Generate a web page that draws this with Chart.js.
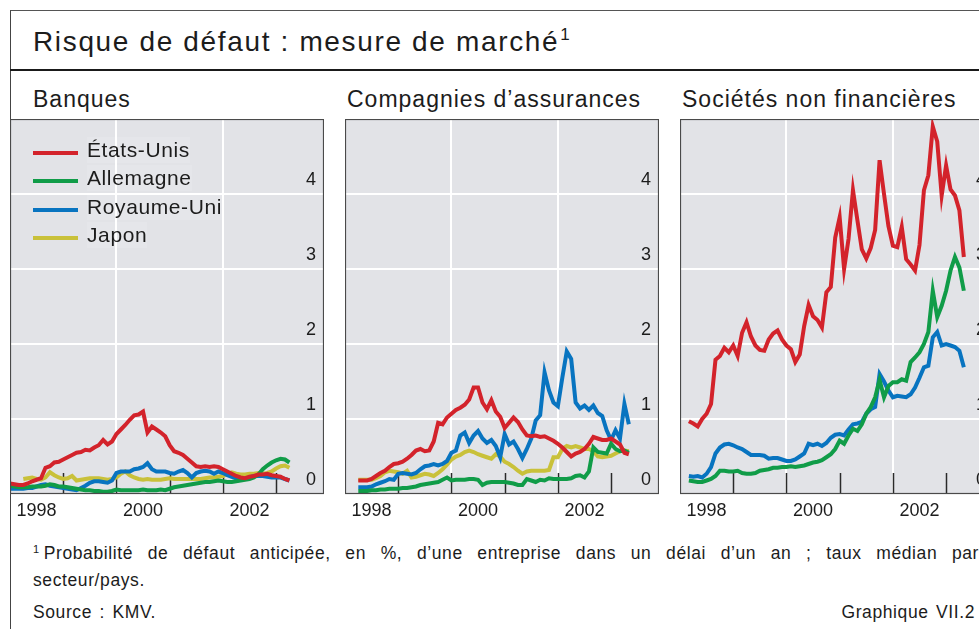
<!DOCTYPE html>
<html lang="fr">
<head>
<meta charset="utf-8">
<title>Risque de défaut : mesure de marché</title>
<script src="https://cdn.jsdelivr.net/npm/chart.js@4.4.0/dist/chart.umd.min.js"></script>
<style>
    html, body { margin: 0; padding: 0; }
    body {
        width: 979px; height: 629px; position: relative; overflow: hidden;
        background: #fff; color: #1c1c1c;
        font-family: "Liberation Sans", Arial, sans-serif;
    }
    .frame { position: absolute; left: 10px; top: 10px; width: 1200px; height: 800px;
             border-left: 1.5px solid #444; border-top: 1.5px solid #555; }
    .sep { position: absolute; left: 10px; top: 69px; width: 1200px; height: 2px; background: #1a1a1a; }
    .title { position: absolute; left: 33px; top: 28px; font-size: 28px; line-height: 1;
             letter-spacing: 1.65px; white-space: nowrap; }
    .title sup { font-size: 17px; letter-spacing: 0; vertical-align: 0; position: relative; top: -11px; margin-left: 1px; }
    .heading { position: absolute; top: 88px; font-size: 23px; line-height: 1;
               letter-spacing: 1px; white-space: nowrap; }
    canvas { position: absolute; top: 119px; }
    .legend-row { position: absolute; left: 33px; height: 26px; width: 260px; }
    .legend-row .swatch { position: absolute; left: 0; top: 14px; width: 45px; height: 4px; }
    .legend-row .name { position: absolute; left: 54px; top: 0; font-size: 21px; line-height: 26px;
                        letter-spacing: 0.6px; white-space: nowrap; background: rgba(255,255,255,0.12); }
    .note { position: absolute; left: 33px; font-size: 17.5px; line-height: 1; letter-spacing: 0.6px;
            word-spacing: 2px; white-space: nowrap; }
    .note.first { width: 946px; text-align: justify; text-align-last: justify; }
    .note sup { font-size: 11px; vertical-align: 0; position: relative; top: -6px; margin-right: 4px; }
</style>
</head>
<body>
<div class="frame"></div>
<div class="title">Risque de défaut : mesure de marché<sup>1</sup></div>
<div class="sep"></div>

<div class="heading" style="left:33px">Banques</div>
<div class="heading" style="left:347px">Compagnies d’assurances</div>
<div class="heading" style="left:682px">Sociétés non financières</div>

<canvas id="banques" width="314" height="407" style="left:10px"></canvas>
<canvas id="assurances" width="314" height="407" style="left:345px"></canvas>
<canvas id="societes" width="314" height="407" style="left:680px"></canvas>

<div id="legend"></div>

<div class="note first" style="top:545px"><sup>1</sup>Probabilité de défaut anticipée, en %, d’une entreprise dans un délai d’un an ; taux médian par</div>
<div class="note" style="top:572px">secteur/pays.</div>
<div class="note" style="top:604px">Source : KMV.</div>
<div class="note" style="top:604px; left:auto; right:4px">Graphique VII.2</div>

<script>
// monthly series, month index 0 = January 1998
const START_YEAR = 1998;
const X_MIN = 1998;
const X_MAX = 2003.9;
const LABEL_YEARS = [1998, 2000, 2002];
const GRID_YEARS = [2000, 2002];
const TICK_YEARS = [1999, 2000, 2001, 2002, 2003];
const Y_TICKS_SHOWN = [0, 1, 2, 3, 4];

const seriesNames = ["États-Unis", "Allemagne", "Royaume-Uni", "Japon"];
const seriesColors = ["#d3232b", "#109c48", "#0874c0", "#c9c13a"];

// Banques
const banquesStart = [0, 0, 0, 3];
const banquesUS = [0.14,0.13,0.12,0.12,0.14,0.17,0.19,0.21,0.35,0.37, 0.42,0.43,0.46,0.49,0.52,0.55,0.56,0.59,0.58,0.62,
    0.65,0.72,0.66,0.70,0.80,0.86,0.92,0.99,1.05,1.06, 1.10,0.82,0.90,0.86,0.82,0.77,0.65,0.57,0.55,0.52,
    0.47,0.42,0.37,0.36,0.37,0.36,0.37,0.36,0.33,0.30, 0.27,0.24,0.22,0.21,0.23,0.24,0.26,0.26,0.27,0.25, 0.24,0.23,0.20,0.18];
const banquesDE = [0.11,0.10,0.09,0.09,0.09,0.10,0.10,0.10,0.11,0.13, 0.12,0.10,0.10,0.09,0.08,0.07,0.06,0.05,0.05,0.04,
    0.04,0.03,0.03,0.04,0.06,0.05,0.05,0.05,0.05,0.05, 0.06,0.05,0.05,0.05,0.06,0.05,0.07,0.09,0.10,0.11,
    0.12,0.13,0.14,0.15,0.16,0.16,0.17,0.18,0.17,0.16, 0.16,0.17,0.18,0.19,0.20,0.22,0.26,0.33,0.38,0.42, 0.45,0.47,0.46,0.42];
const banquesUK = [0.07,0.07,0.07,0.07,0.08,0.08,0.10,0.12,0.13,0.11, 0.10,0.09,0.08,0.07,0.06,0.05,0.08,0.11,0.15,0.17,
    0.17,0.16,0.15,0.18,0.28,0.30,0.30,0.30,0.33,0.34, 0.36,0.41,0.33,0.30,0.30,0.30,0.28,0.27,0.30,0.32,
    0.28,0.22,0.28,0.30,0.31,0.30,0.27,0.30,0.28,0.25, 0.23,0.21,0.20,0.20,0.22,0.24,0.24,0.24,0.23,0.22, 0.22,0.22,0.20,0.18];
const banquesJP = [0.20,0.21,0.22,0.20,0.19,0.22,0.29,0.25,0.22, 0.20,0.21,0.24,0.18,0.19,0.20,0.21,0.21,0.21,0.20,
    0.19,0.20,0.22,0.27,0.30,0.25,0.22,0.20,0.19,0.20, 0.19,0.19,0.19,0.20,0.21,0.20,0.20,0.20,0.20,0.20,
    0.20,0.20,0.21,0.22,0.22,0.23,0.24,0.27,0.29,0.27, 0.26,0.26,0.27,0.27,0.28,0.27,0.28,0.30,0.34,0.37, 0.38,0.35];

// Compagnies d'assurances
const assurancesStart = [3, 3, 3, 3];
const assurancesUS = [0.18,0.18,0.18,0.20,0.24,0.28,0.31,0.36,0.40, 0.41,0.43,0.47,0.52,0.58,0.60,0.57,0.58,0.70,0.95,
    0.93,1.02,1.07,1.12,1.15,1.19,1.26,1.42,1.42,1.22, 1.13,1.25,1.10,1.03,0.88,0.95,1.02,0.96,0.86,0.78,
    0.77,0.78,0.76,0.77,0.74,0.71,0.67,0.62,0.56,0.50, 0.54,0.56,0.60,0.67,0.76,0.74,0.72,0.72,0.74,0.70, 0.66,0.55,0.53];
const assurancesDE = [0.04,0.04,0.04,0.05,0.05,0.06,0.06,0.07,0.07, 0.07,0.08,0.08,0.09,0.10,0.12,0.13,0.14,0.15,0.16,
    0.19,0.22,0.18,0.19,0.19,0.19,0.20,0.20,0.19,0.12, 0.15,0.16,0.16,0.16,0.16,0.15,0.14,0.12,0.12,0.20,
    0.18,0.16,0.19,0.18,0.21,0.20,0.20,0.20,0.20,0.21, 0.24,0.25,0.22,0.30,0.62,0.56,0.55,0.54,0.67,0.60, 0.57,0.58,0.55];
const assurancesUK = [0.09,0.09,0.09,0.10,0.13,0.15,0.17,0.20,0.19, 0.27,0.28,0.27,0.26,0.28,0.33,0.37,0.38,0.40,0.38,
    0.40,0.44,0.55,0.58,0.78,0.82,0.68,0.78,0.84,0.74, 0.68,0.72,0.64,0.49,0.80,0.66,0.70,0.60,0.48,0.60,
    0.74,0.98,1.05,1.62,1.38,1.22,1.17,1.55,1.90,1.80, 1.22,1.14,1.18,1.12,1.18,1.08,1.04,0.85,0.72,0.85, 0.74,1.20,0.93];
const assurancesJP = [0.19,0.19,0.19,0.19,0.21,0.24,0.29,0.31,0.30, 0.29,0.27,0.31,0.22,0.23,0.25,0.27,0.26,0.24,0.28,
    0.33,0.39,0.46,0.50,0.52,0.56,0.58,0.56,0.53,0.51, 0.49,0.47,0.53,0.50,0.43,0.40,0.36,0.31,0.27,0.30,
    0.31,0.31,0.31,0.31,0.32,0.49,0.49,0.60,0.64,0.62, 0.64,0.62,0.60,0.60,0.57,0.50,0.49,0.50,0.51,0.54, 0.57,0.58,0.57];

// Sociétés non financières (pas de série Japon)
const societesStart = [2, 2, 2];
const societesUS = [0.97,0.94,0.90,1.00,1.07,1.20,1.79,1.84,1.95,1.89, 1.98,1.84,2.15,2.29,2.10,1.98,1.92,1.91,2.06,2.14,
    2.18,2.06,1.98,1.93,1.76,1.86,2.24,2.52,2.37,2.32, 2.22,2.69,2.76,3.42,3.69,3.00,3.40,4.05,3.65,3.26,
    3.14,3.28,3.52,4.45,4.00,3.57,3.31,3.29,3.56,3.13, 3.06,2.98,3.32,4.05,4.25,4.90,4.70,3.98,4.38,4.06, 3.98,3.78,3.16];
const societesDE = [0.18,0.17,0.16,0.16,0.18,0.20,0.24,0.31,0.31,0.30, 0.30,0.31,0.28,0.27,0.27,0.28,0.31,0.32,0.33,0.35,
    0.35,0.36,0.36,0.37,0.36,0.37,0.38,0.40,0.42,0.43, 0.45,0.49,0.53,0.60,0.71,0.67,0.78,0.87,0.84,0.93,
    1.07,1.16,1.29,1.52,1.29,1.44,1.49,1.49,1.53,1.51, 1.76,1.82,1.89,2.00,2.16,2.71,2.36,2.51,2.71,2.98, 3.16,3.02,2.71];
const societesUK = [0.24,0.23,0.24,0.22,0.27,0.36,0.54,0.62,0.66,0.67, 0.65,0.62,0.60,0.56,0.52,0.52,0.52,0.51,0.47,0.48,
    0.48,0.46,0.44,0.44,0.46,0.50,0.54,0.67,0.65,0.67, 0.64,0.68,0.75,0.79,0.80,0.78,0.86,0.93,0.94,0.96,
    1.07,1.13,1.16,1.60,1.50,1.38,1.29,1.31,1.30,1.29, 1.33,1.42,1.55,1.69,1.71,2.09,2.16,1.98,2.00,1.98, 1.96,1.91,1.69];

const PLOT_BG = "#e2e3e7";
const tickFont = { family: "'Liberation Sans', Arial, sans-serif", size: 18 };

// legend drawn as html over the first panel
const legend = document.getElementById("legend");
seriesNames.forEach((name, k) => {
    const row = document.createElement("div");
    row.className = "legend-row";
    row.style.top = (137 + 28.4 * k) + "px";
    row.innerHTML = `<div class="swatch" style="background:${seriesColors[k]}"></div><span class="name">${name}</span>`;
    legend.appendChild(row);
});

const buildDatasets = (list, starts) => list.map((values, k) => ({
    label: seriesNames[k],
    borderColor: seriesColors[k],
    data: values.map((v, i) => ({ x: START_YEAR + (starts[k] + i) / 12, y: v }))
}));

// background, inner year ticks and frame of each plot
const plotFrame = {
    id: "plotFrame",
    beforeDraw(chart) {
        const { ctx, chartArea: a } = chart;
        ctx.save();
        ctx.fillStyle = PLOT_BG;
        ctx.fillRect(a.left, a.top, a.width, a.height);
        ctx.restore();
    },
    beforeDatasetsDraw(chart) {
        const { ctx, chartArea: a, scales } = chart;
        ctx.save();
        ctx.strokeStyle = "#2a2a2a";
        ctx.lineWidth = 1.5;
        TICK_YEARS.forEach(yr => {
            const px = Math.round(scales.x.getPixelForValue(yr)) + 0.5;
            ctx.beginPath();
            ctx.moveTo(px, a.bottom);
            ctx.lineTo(px, a.bottom - 21);
            ctx.stroke();
        });
        ctx.restore();
    },
    afterDraw(chart) {
        const { ctx, chartArea: a } = chart;
        ctx.save();
        ctx.strokeStyle = "#4a4a4a";
        ctx.lineWidth = 1.2;
        ctx.strokeRect(a.left + 0.5, a.top + 0.5, a.width - 1, a.height - 1);
        ctx.restore();
    }
};

const makeChart = (id, datasets) => {
    new Chart(document.getElementById(id), {
        type: "line",
        data: { datasets },
        options: {
            responsive: false,
            animation: false,
            layout: { padding: 0 },
            plugins: { legend: { display: false }, tooltip: { enabled: false } },
            elements: {
                point: { radius: 0 },
                line: { borderWidth: 4, tension: 0, fill: false }
            },
            scales: {
                x: {
                    type: "linear",
                    min: X_MIN,
                    max: X_MAX,
                    border: { display: false },
                    grid: {
                        color: c => GRID_YEARS.includes(c.tick.value) ? "#ffffff" : "rgba(0,0,0,0)",
                        lineWidth: 2,
                        drawTicks: false
                    },
                    ticks: {
                        stepSize: 1,
                        autoSkip: false,
                        maxRotation: 0,
                        labelOffset: 26.6,
                        padding: 6,
                        color: "#1c1c1c",
                        font: tickFont,
                        callback: v => LABEL_YEARS.includes(v) ? String(v) : ""
                    },
                    afterFit: s => { s.height = 32; s.paddingLeft = 0; s.paddingRight = 0; }
                },
                y: {
                    position: "right",
                    min: 0,
                    max: 5,
                    border: { display: false },
                    grid: {
                        color: c => (c.tick.value > 0 && c.tick.value < 5) ? "#ffffff" : "rgba(0,0,0,0)",
                        lineWidth: 2,
                        drawTicks: false
                    },
                    ticks: {
                        stepSize: 1,
                        mirror: true,
                        padding: -8,
                        labelOffset: -14,
                        color: "#1c1c1c",
                        font: tickFont,
                        callback: v => Y_TICKS_SHOWN.includes(v) ? String(v) : ""
                    },
                    afterFit: s => { s.width = 0; s.paddingTop = 0; s.paddingBottom = 0; }
                }
            }
        },
        plugins: [plotFrame]
    });
};

makeChart("banques", buildDatasets([banquesUS, banquesDE, banquesUK, banquesJP], banquesStart));
makeChart("assurances", buildDatasets([assurancesUS, assurancesDE, assurancesUK, assurancesJP], assurancesStart));
makeChart("societes", buildDatasets([societesUS, societesDE, societesUK], societesStart));
</script>
</body>
</html>
